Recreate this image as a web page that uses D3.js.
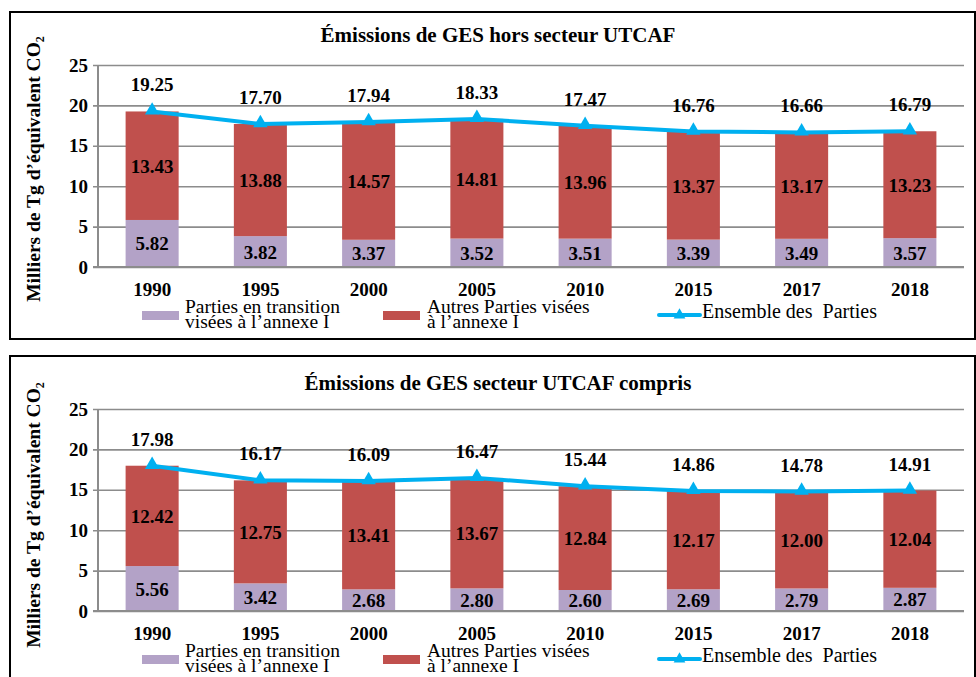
<!DOCTYPE html>
<html>
<head>
<meta charset="utf-8">
<script src="https://cdn.jsdelivr.net/npm/d3@7"></script>
<style>
  html, body { margin: 0; padding: 0; background: #fff; }
  svg { display: block; }
  text { font-family: "Liberation Serif", "Times New Roman", serif; white-space: pre; }
</style>
</head>
<body>
<svg id="chart" width="976" height="677"></svg>
<script>
const years = ['1990','1995','2000','2005','2010','2015','2017','2018'];
const yTicks = [0, 5, 10, 15, 20, 25];

const titleHors = 'Émissions de GES hors secteur UTCAF';
const horsTransition = [5.82, 3.82, 3.37, 3.52, 3.51, 3.39, 3.49, 3.57];
const horsAutres = [13.43, 13.88, 14.57, 14.81, 13.96, 13.37, 13.17, 13.23];
const horsTotal = [19.25, 17.70, 17.94, 18.33, 17.47, 16.76, 16.66, 16.79];

const titleCompris = 'Émissions de GES secteur UTCAF compris';
const comprisTransition = [5.56, 3.42, 2.68, 2.80, 2.60, 2.69, 2.79, 2.87];
const comprisAutres = [12.42, 12.75, 13.41, 13.67, 12.84, 12.17, 12.00, 12.04];
const comprisTotal = [17.98, 16.17, 16.09, 16.47, 15.44, 14.86, 14.78, 14.91];

const legendTransition = ['Parties en transition', 'visées à l’annexe I'];
const legendAutres = ['Autres Parties visées', 'à l’annexe I'];
const legendTotal = 'Ensemble des  Parties';
const yLabel = 'Milliers de Tg d’équivalent CO';

const colTransition = '#B3A2C7';
const colAutres = '#C0504D';
const colLine = '#00B0F0';
const gridCol = '#8c8c8c';

const svg = d3.select('#chart');

function panel(cfg) {
  const g = svg.append('g');
  g.append('rect')
    .attr('x', 10).attr('y', cfg.frameTop)
    .attr('width', 965).attr('height', cfg.frameH)
    .attr('fill', 'none').attr('stroke', '#000').attr('stroke-width', 2);

  const x = d3.scaleBand().domain(years).range([98, 964]).paddingInner(0.51).paddingOuter(0.255);
  const y = d3.scaleLinear().domain([0, 25]).range([cfg.y0, cfg.y0 - 202]);

  g.append('text')
    .attr('x', 498).attr('y', cfg.titleY)
    .attr('text-anchor', 'middle')
    .attr('font-weight', 'bold').attr('font-size', 21)
    .text(cfg.title);

  const yl = g.append('text')
    .attr('transform', `translate(40,${cfg.yLabelY}) rotate(-90)`)
    .attr('text-anchor', 'middle')
    .attr('font-weight', 'bold').attr('font-size', 19.5);
  yl.append('tspan').text(yLabel);
  yl.append('tspan').attr('font-size', 12).attr('dy', 4).text('2');

  const yAxis = d3.axisLeft(y).tickValues(yTicks).tickSize(-(964 - 98)).tickPadding(10).tickFormat(d3.format('d'));
  const ax = g.append('g').attr('transform', 'translate(98,0)').call(yAxis);
  ax.select('.domain').attr('stroke', gridCol).attr('stroke-width', 2).attr('d', `M0,${y(0)}V${y(25)}`);
  ax.selectAll('.tick line').attr('stroke', gridCol).attr('stroke-width', 1.6).attr('x1', -5);
  ax.selectAll('.tick text')
    .attr('font-family', '"Liberation Serif", serif')
    .attr('font-weight', 'bold').attr('font-size', 19).attr('fill', '#000');

  const bw = x.bandwidth();
  g.selectAll('.bt').data(years).enter().append('rect')
    .attr('x', d => x(d)).attr('width', bw)
    .attr('y', (d, i) => y(cfg.transition[i]))
    .attr('height', (d, i) => y(0) - y(cfg.transition[i]))
    .attr('fill', colTransition);
  g.selectAll('.ba').data(years).enter().append('rect')
    .attr('x', d => x(d)).attr('width', bw)
    .attr('y', (d, i) => y(cfg.transition[i] + cfg.autres[i]))
    .attr('height', (d, i) => y(cfg.transition[i]) - y(cfg.transition[i] + cfg.autres[i]))
    .attr('fill', colAutres);

  g.append('line').attr('x1', 93).attr('x2', 964).attr('y1', y(0)).attr('y2', y(0))
    .attr('stroke', gridCol).attr('stroke-width', 2);

  g.selectAll('.lt').data(years).enter().append('text')
    .attr('x', d => x(d) + bw / 2)
    .attr('y', (d, i) => y(cfg.transition[i] / 2) + 7)
    .attr('text-anchor', 'middle').attr('font-weight', 'bold').attr('font-size', 19)
    .text((d, i) => cfg.transition[i].toFixed(2));
  g.selectAll('.la').data(years).enter().append('text')
    .attr('x', d => x(d) + bw / 2)
    .attr('y', (d, i) => y(cfg.transition[i] + cfg.autres[i] / 2) + 7)
    .attr('text-anchor', 'middle').attr('font-weight', 'bold').attr('font-size', 19)
    .text((d, i) => cfg.autres[i].toFixed(2));

  const line = d3.line().x((d, i) => x(years[i]) + bw / 2).y(d => y(d));
  g.append('path').datum(cfg.total)
    .attr('d', line).attr('fill', 'none')
    .attr('stroke', colLine).attr('stroke-width', 4).attr('stroke-linejoin', 'round');
  const tri = d3.symbol().type(d3.symbolTriangle).size(90);
  g.selectAll('.mk').data(cfg.total).enter().append('path')
    .attr('d', tri)
    .attr('transform', (d, i) => `translate(${x(years[i]) + bw / 2},${y(d) - 1})`)
    .attr('fill', colLine);

  g.selectAll('.ltot').data(cfg.total).enter().append('text')
    .attr('x', (d, i) => x(years[i]) + bw / 2)
    .attr('y', d => y(d) - 20)
    .attr('text-anchor', 'middle').attr('font-weight', 'bold').attr('font-size', 19)
    .text(d => d.toFixed(2));

  g.selectAll('.xl').data(years).enter().append('text')
    .attr('x', d => x(d) + bw / 2)
    .attr('y', y(0) + 29)
    .attr('text-anchor', 'middle').attr('font-weight', 'bold').attr('font-size', 19)
    .text(d => d);

  const ly = y(0) + 49;
  g.append('rect').attr('x', 142).attr('y', ly - 5).attr('width', 37).attr('height', 9).attr('fill', colTransition);
  const t1 = g.append('text').attr('x', 185).attr('y', ly - 3).attr('font-size', 19.5);
  t1.append('tspan').attr('x', 185).text(legendTransition[0]);
  t1.append('tspan').attr('x', 185).attr('dy', 15).text(legendTransition[1]);
  g.append('rect').attr('x', 383).attr('y', ly - 5).attr('width', 37).attr('height', 9).attr('fill', colAutres);
  const t2 = g.append('text').attr('x', 427).attr('y', ly - 3).attr('font-size', 19.5);
  t2.append('tspan').attr('x', 427).text(legendAutres[0]);
  t2.append('tspan').attr('x', 427).attr('dy', 15).text(legendAutres[1]);
  g.append('line').attr('x1', 659).attr('x2', 700).attr('y1', ly - 1).attr('y2', ly - 1)
    .attr('stroke', colLine).attr('stroke-width', 4).attr('stroke-linecap', 'round');
  g.append('path').attr('d', d3.symbol().type(d3.symbolTriangle).size(60))
    .attr('transform', `translate(679.5,${ly - 1})`).attr('fill', colLine);
  g.append('text').attr('x', 702).attr('y', ly + 2).attr('font-size', 20).text(legendTotal);
}

panel({
  frameTop: 12, frameH: 327, y0: 267, titleY: 42, yLabelY: 169,
  title: titleHors, transition: horsTransition, autres: horsAutres, total: horsTotal
});
panel({
  frameTop: 356, frameH: 340, y0: 611, titleY: 390, yLabelY: 515,
  title: titleCompris, transition: comprisTransition, autres: comprisAutres, total: comprisTotal
});
</script>
</body>
</html>
